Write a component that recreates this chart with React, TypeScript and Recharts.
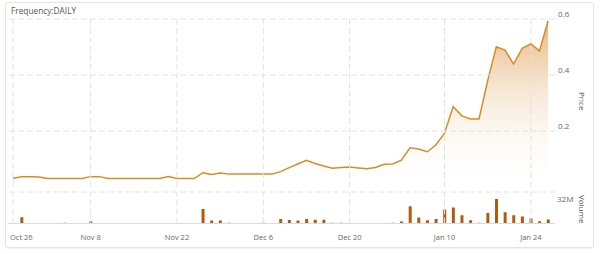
import React from 'react';
import { ComposedChart, Area, Bar, Cell, XAxis, YAxis, ReferenceLine } from 'recharts';

// trading days shown on the chart
const dates = [
  'Oct 26', 'Oct 27', 'Oct 28', 'Oct 29', 'Nov 1', 'Nov 2', 'Nov 3', 'Nov 4', 'Nov 5',
  'Nov 8', 'Nov 9', 'Nov 10', 'Nov 11', 'Nov 12', 'Nov 15', 'Nov 16', 'Nov 17', 'Nov 18', 'Nov 19',
  'Nov 22', 'Nov 23', 'Nov 24', 'Nov 25', 'Nov 26', 'Nov 29', 'Nov 30', 'Dec 1', 'Dec 2', 'Dec 3',
  'Dec 6', 'Dec 7', 'Dec 8', 'Dec 9', 'Dec 10', 'Dec 13', 'Dec 14', 'Dec 15', 'Dec 16', 'Dec 17',
  'Dec 20', 'Dec 21', 'Dec 22', 'Dec 23', 'Dec 27', 'Dec 28', 'Dec 29', 'Dec 30', 'Jan 4', 'Jan 5', 'Jan 6',
  'Jan 10', 'Jan 11', 'Jan 12', 'Jan 13', 'Jan 14', 'Jan 17', 'Jan 18', 'Jan 19', 'Jan 20', 'Jan 21',
  'Jan 24', 'Jan 25', 'Jan 26',
];

const prices = [
  0.031, 0.037, 0.037, 0.036, 0.030, 0.030, 0.030, 0.030, 0.030,
  0.037, 0.037, 0.030, 0.030, 0.030, 0.030, 0.030, 0.030, 0.030, 0.037,
  0.030, 0.030, 0.030, 0.051, 0.045, 0.050, 0.046, 0.046, 0.046, 0.046,
  0.046, 0.046, 0.055, 0.069, 0.082, 0.095, 0.084, 0.075, 0.067, 0.070,
  0.071, 0.068, 0.065, 0.070, 0.081, 0.082, 0.096, 0.140, 0.136, 0.126, 0.150,
  0.192, 0.287, 0.254, 0.243, 0.243, 0.380, 0.501, 0.489, 0.439, 0.495,
  0.511, 0.486, 0.594,
];

// volume in millions
const volumes = [
  0, 8, 0, 0, 0, 0, 1.2, 0, 0,
  3, 0, 0, 0, 0, 0, 0, 0, 0, 0,
  0, 0, 0, 19, 4, 4, 1.2, 0, 0, 0,
  1.2, 0, 6, 4.5, 4, 6, 5, 5, 1.2, 1.2,
  0, 0, 0, 0, 0, 1.2, 2.6, 22.5, 7.7, 4.2, 5.9,
  18.3, 20.9, 10.6, 4.2, 1.2, 13.6, 32, 14.5, 10.6, 9,
  6.4, 3, 5.1,
];

const tickLabels = ['Oct 26', 'Nov 8', 'Nov 22', 'Dec 6', 'Dec 20', 'Jan 10', 'Jan 24'];
const priceTicks = [0.2, 0.4, 0.6];
const volumeTicks = [32];
const volumeMax = 41;

const data = dates.map((d, i) => ({ i, date: d, price: prices[i], volume: volumes[i] }));
const xTicks = tickLabels.map(l => dates.indexOf(l));

const FONT = '"Open Sans", sans-serif';
const GRID = '#e2e2e2';
const X_DOMAIN = [-0.58, 62.8];

const PriceTick = ({ x, y, payload }: any) => (
  <text x={x} y={y - 5} dy={3} fill="#666" fontSize={8} fontFamily={FONT} textAnchor="start">
    {payload.value}
  </text>
);

const VolumeTick = ({ x, y, payload }: any) => (
  <text x={x - 1} y={y} dy={3} fill="#666" fontSize={8} fontFamily={FONT} textAnchor="start">
    {`${payload.value}M`}
  </text>
);

const DateTick = ({ x, y, payload }: any) => {
  const first = payload.value === xTicks[0];
  return (
    <text x={first ? x - 3 : x} y={y} dy={16} fill="#666" fontSize={7.5} fontFamily={FONT}
      textAnchor={first ? 'start' : 'middle'}>
      {dates[payload.value]}
    </text>
  );
};

const sideLabel: React.CSSProperties = {
  position: 'absolute',
  writingMode: 'vertical-rl',
  fontFamily: FONT,
  fontSize: 8,
  lineHeight: '10px',
  color: '#555',
};

export default function App() {
  return (
    <div style={{ position: 'absolute', left: 0, top: 0, width: 600, height: 254, background: '#fff' }}>
      <div style={{
        position: 'absolute', left: 5, top: 2, width: 589, height: 246, boxSizing: 'border-box',
        border: '1px solid #e4e4e4', borderRadius: 3, boxShadow: '0 1px 2px rgba(0,0,0,0.06)',
      }} />
      <div style={{ position: 'absolute', left: 11, top: 5, fontFamily: FONT, fontSize: 8.3, color: '#555' }}>
        Frequency:DAILY
      </div>

      <div style={{ position: 'absolute', left: 0, top: 0 }}>
        <ComposedChart width={600} height={190} data={data} margin={{ top: 19, right: 0, bottom: 3, left: 8 }}>
          <defs>
            <linearGradient id="priceFill" x1="0" y1="0" x2="0" y2="1">
              <stop offset="0%" stopColor="#d4801a" stopOpacity={0.95} />
              <stop offset="100%" stopColor="#ffffff" stopOpacity={0} />
            </linearGradient>
          </defs>
          <XAxis type="number" dataKey="i" domain={X_DOMAIN} ticks={xTicks} allowDataOverflow
            height={0} tick={false} axisLine={false} tickLine={false} />
          <YAxis orientation="right" width={45} domain={[0, 0.6]} ticks={priceTicks} interval={0}
            axisLine={false} tickLine={false} tickSize={0} tickMargin={3} tick={<PriceTick />} />
          {xTicks.map(t => (
            <ReferenceLine key={`px-${t}`} x={t} stroke={GRID} strokeDasharray="6 3" />
          ))}
          {priceTicks.map(t => (
            <ReferenceLine key={`py-${t}`} y={t} stroke={GRID} strokeDasharray="6 3" />
          ))}
          <Area type="linear" dataKey="price" stroke="#d98c26" strokeWidth={1.5} fill="url(#priceFill)"
            isAnimationActive={false} dot={false} activeDot={false} />
        </ComposedChart>
      </div>

      <div style={{ position: 'absolute', left: 0, top: 190 }}>
        <ComposedChart width={600} height={60} data={data} margin={{ top: 2, right: 0, bottom: 0, left: 8 }}>
          <XAxis type="number" dataKey="i" domain={X_DOMAIN} ticks={xTicks} allowDataOverflow interval={0}
            height={26.5} axisLine={{ stroke: '#d9dce3' }} tickLine={false} tickSize={0} tickMargin={0}
            tick={<DateTick />} />
          <YAxis orientation="right" width={45} domain={[0, volumeMax]} ticks={volumeTicks} interval={0}
            axisLine={false} tickLine={false} tickSize={0} tickMargin={3} tick={<VolumeTick />} />
          {xTicks.map(t => (
            <ReferenceLine key={`vx-${t}`} x={t} stroke={GRID} strokeDasharray="6 3" />
          ))}
          <ReferenceLine y={volumeMax} stroke={GRID} strokeDasharray="6 3" />
          <Bar dataKey="volume" barSize={3} isAnimationActive={false}>
            {data.map((d, idx) => (
              <Cell key={`v-${idx}`} fill={d.volume < 1.5 ? '#b9b9b9' : '#b55a0c'} />
            ))}
          </Bar>
        </ComposedChart>
      </div>

      <div style={{ ...sideLabel, left: 577, top: 92 }}>Price</div>
      <div style={{ ...sideLabel, left: 577, top: 195 }}>Volume</div>
    </div>
  );
}
